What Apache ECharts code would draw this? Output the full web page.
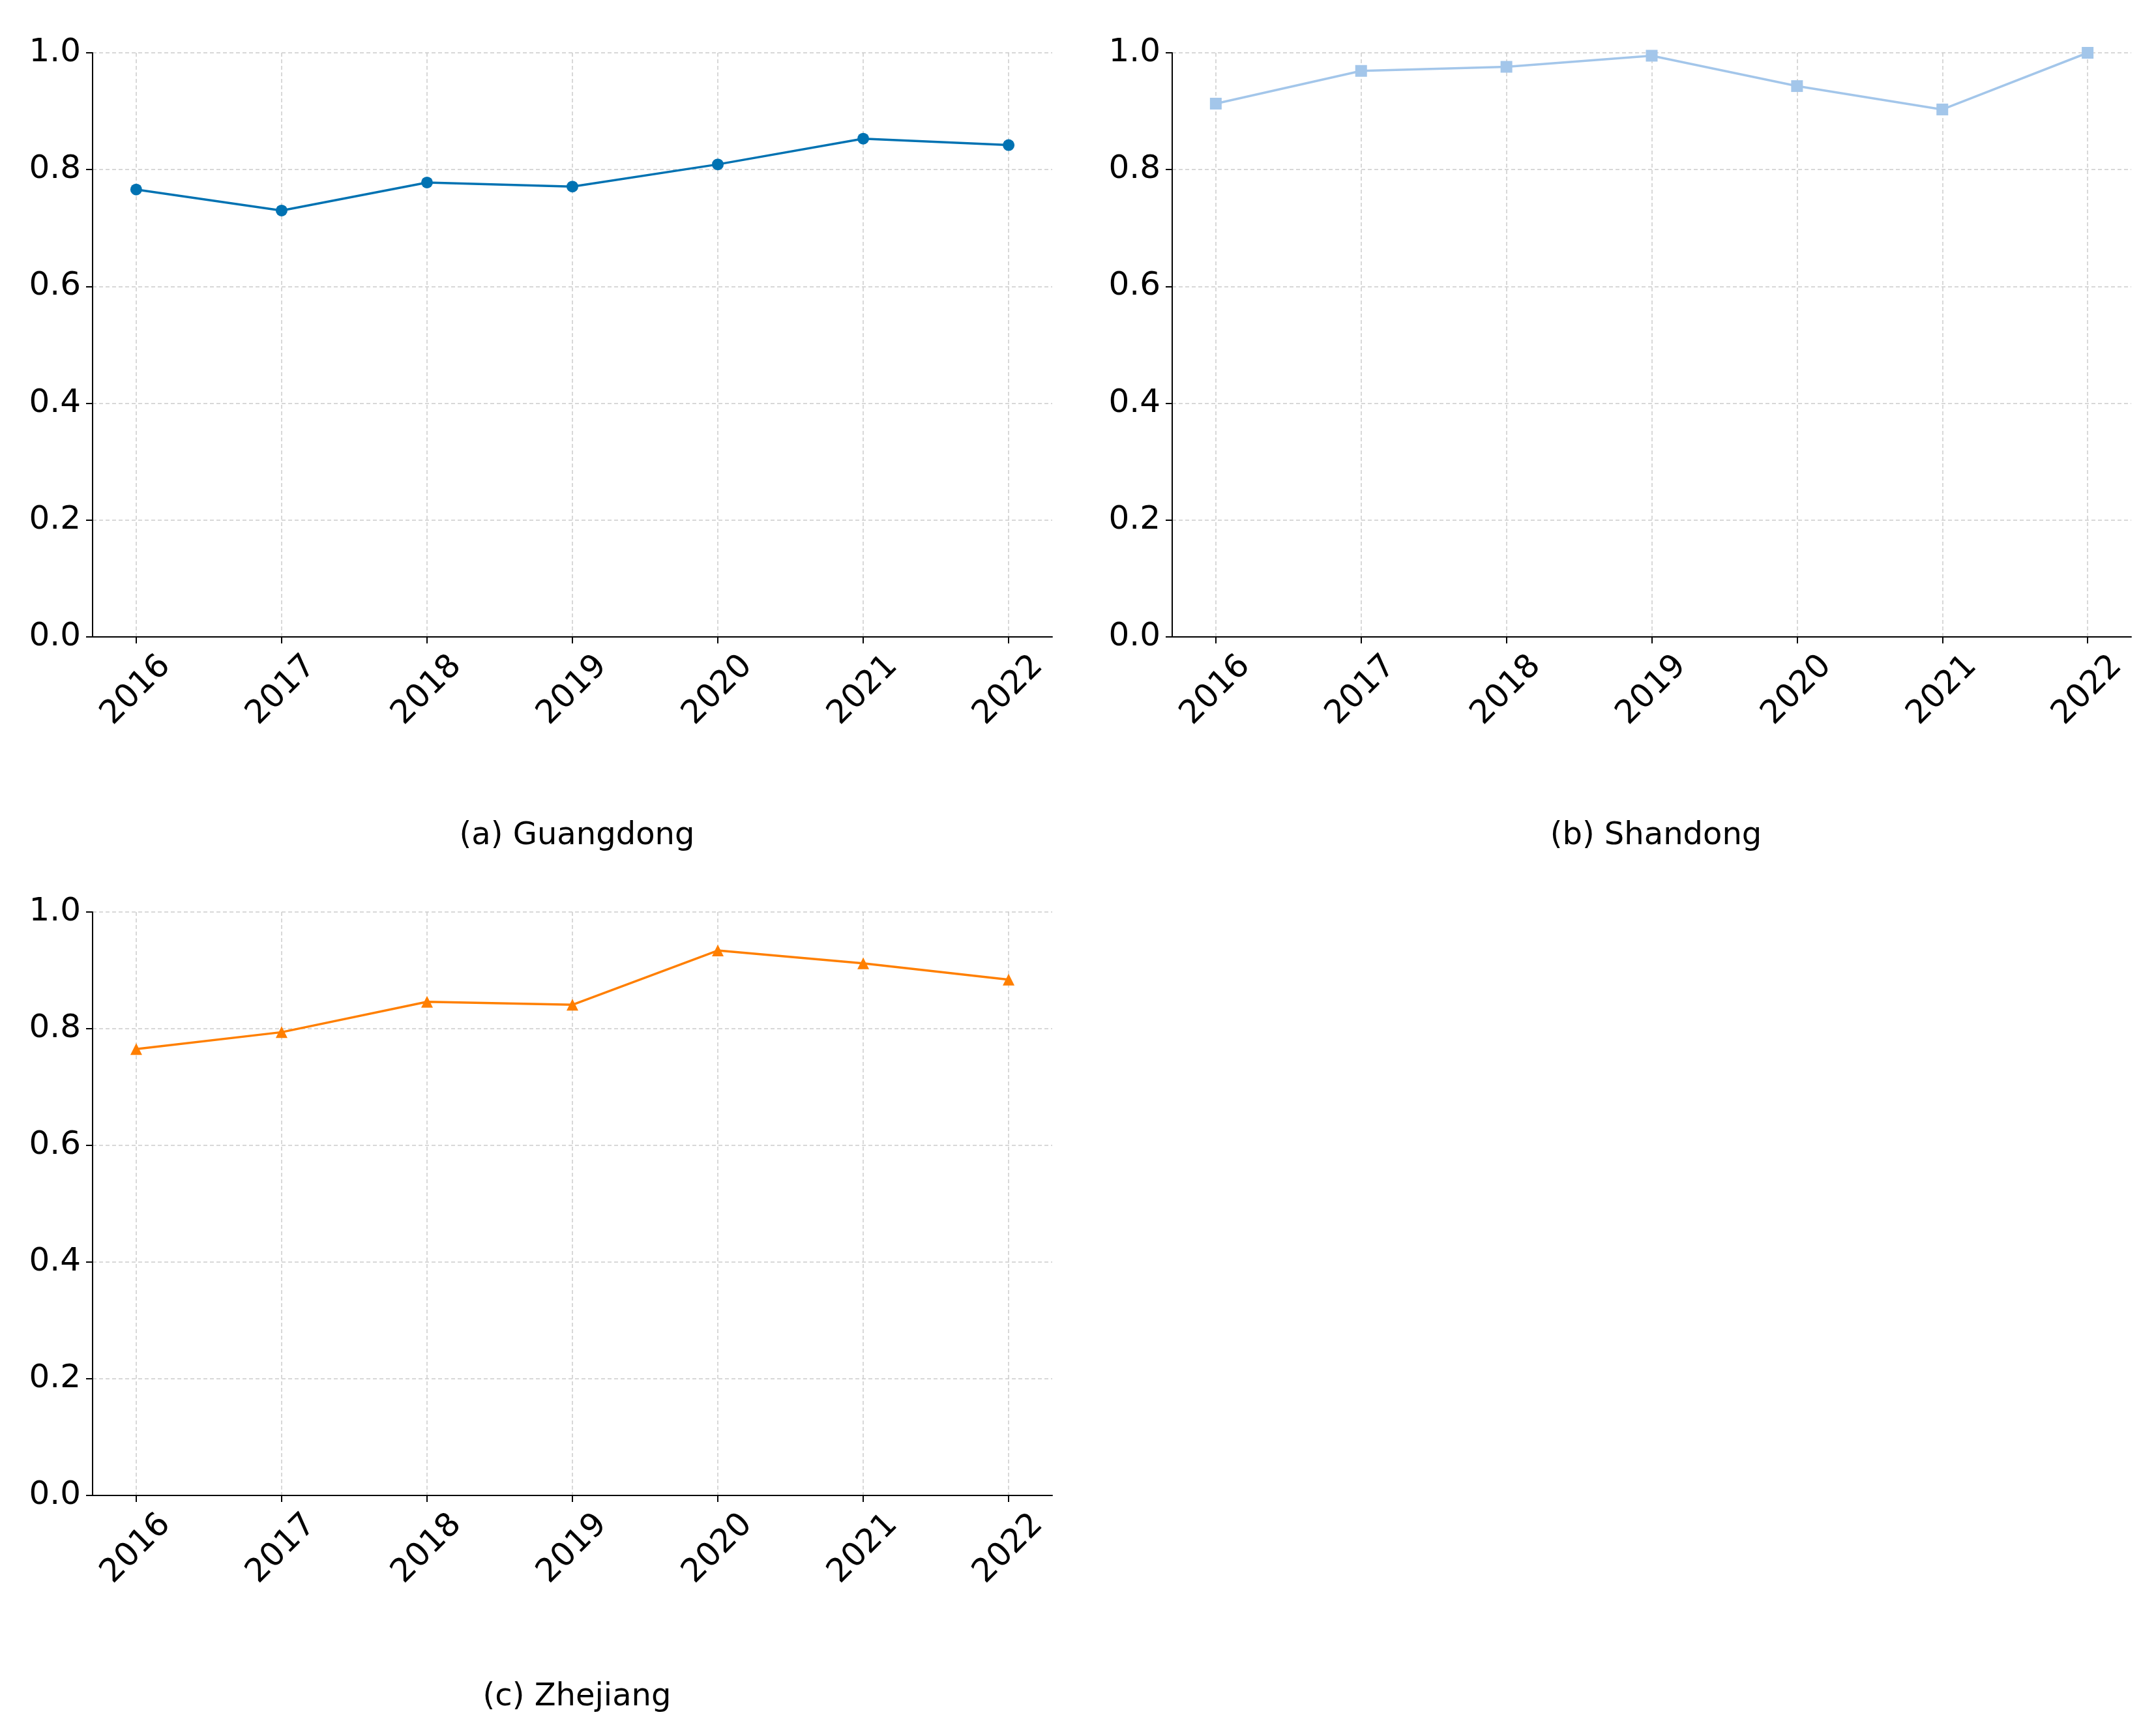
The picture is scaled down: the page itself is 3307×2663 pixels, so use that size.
<!DOCTYPE html>
<html>
<head>
<meta charset="utf-8">
<script src="https://cdn.jsdelivr.net/npm/echarts@6/dist/echarts.min.js"></script>
<style>html,body{margin:0;background:#fff}#c{width:3307px;height:2663px}</style>
</head>
<body>
<div id="c"></div>
<script>
const years = [2016, 2017, 2018, 2019, 2020, 2021, 2022];
const guangdong = [0.766, 0.730, 0.778, 0.771, 0.809, 0.853, 0.842];
const shandong = [0.913, 0.969, 0.976, 0.995, 0.943, 0.903, 1.0];
const zhejiang = [0.765, 0.794, 0.846, 0.841, 0.934, 0.912, 0.884];

const font = 'DejaVu Sans';
const grids = [
  { left: 142, width: 1472, top: 81, height: 896 },
  { left: 1798, width: 1471, top: 81, height: 896 },
  { left: 142, width: 1472, top: 1399, height: 895 }
];
const panels = [
  { name: '(a) Guangdong', data: guangdong, color: '#0072b2', symbol: 'circle', tx: 880, ty: 1278 },
  { name: '(b) Shandong', data: shandong, color: '#a3c6ea', symbol: 'rect', tx: 2535, ty: 1278 },
  { name: '(c) Zhejiang', data: zhejiang, color: '#ff7f00', symbol: 'triangle', tx: 880, ty: 2599 }
];
const split = { show: true, lineStyle: { color: '#cccccc', type: [6, 4], width: 1.5 } };

const chart = echarts.init(document.getElementById('c'));
chart.setOption({
  animation: false,
  grid: grids,
  title: panels.map(p => ({
    text: p.name, left: p.tx, top: p.ty, textAlign: 'center', textVerticalAlign: 'middle',
    textStyle: { fontFamily: font, fontSize: 48, fontWeight: 'normal', color: '#000' }
  })),
  xAxis: panels.map((p, i) => ({
    type: 'value', gridIndex: i, min: 2015.7, max: 2022.3,
    axisLine: { show: true, onZero: false, lineStyle: { color: '#000', width: 2 } },
    axisTick: { show: true, customValues: years, length: 10, lineStyle: { color: '#000', width: 2 } },
    axisLabel: {
      customValues: years, rotate: 45, fontFamily: font, fontSize: 50, color: '#000',
      margin: 82, align: 'center', verticalAlign: 'middle', formatter: v => String(v)
    },
    splitLine: split
  })),
  yAxis: panels.map((p, i) => ({
    type: 'value', gridIndex: i, min: 0, max: 1, interval: 0.2,
    axisLine: { show: true, lineStyle: { color: '#000', width: 2 } },
    axisTick: { show: true, length: 10, lineStyle: { color: '#000', width: 2 } },
    axisLabel: { fontFamily: font, fontSize: 50, color: '#000', margin: 18, formatter: v => v.toFixed(1) },
    splitLine: split
  })),
  series: panels.map((p, i) => ({
    type: 'line', xAxisIndex: i, yAxisIndex: i,
    data: years.map((y, k) => [y, p.data[k]]),
    symbol: p.symbol, symbolSize: 18, color: p.color,
    lineStyle: { width: 3.5, color: p.color },
    itemStyle: { color: p.color }
  }))
});
</script>
</body>
</html>
